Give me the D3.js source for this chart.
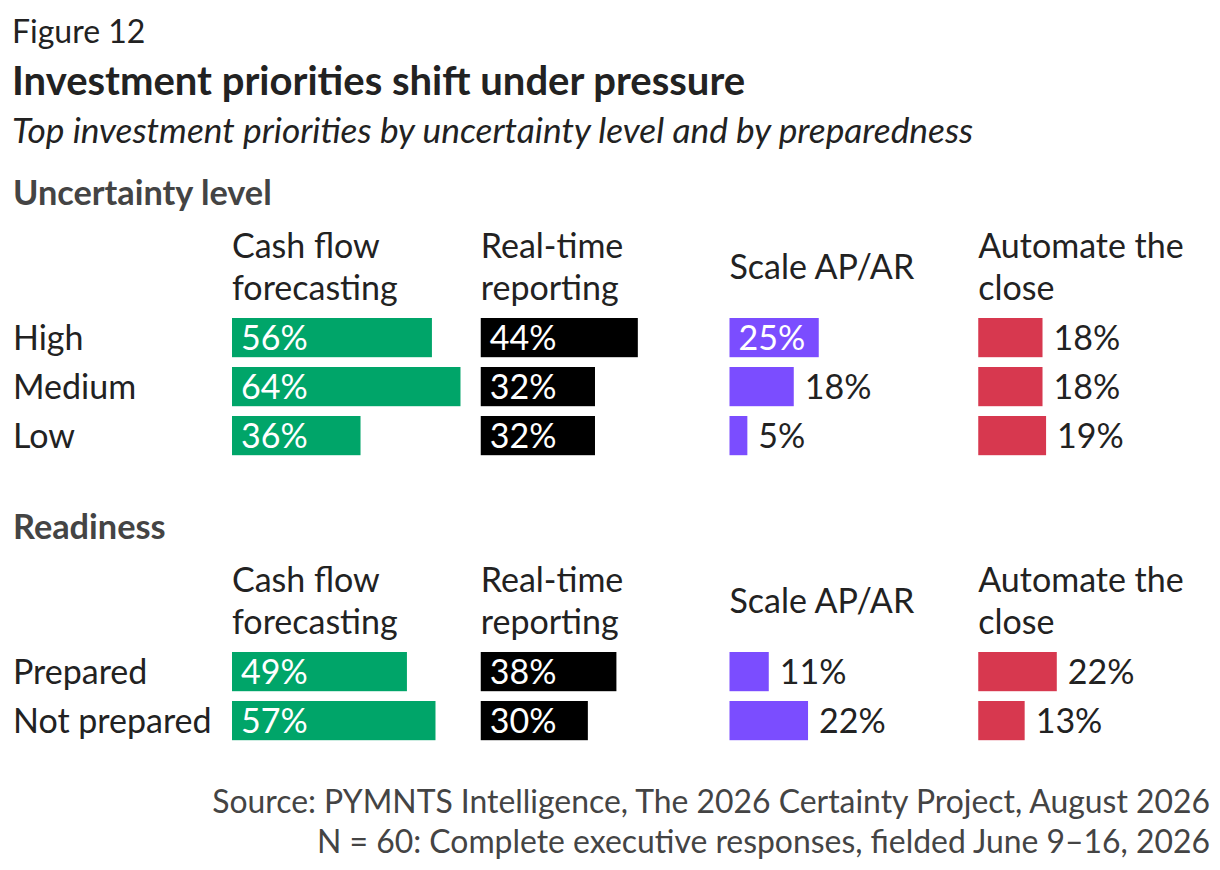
<!DOCTYPE html>
<html>
<head>
<meta charset="utf-8">
<script src="https://cdn.jsdelivr.net/npm/d3@7/dist/d3.min.js"></script>
<style>
  body { margin: 0; background: #fff; }
  text { font-family: Lato, "Open Sans", sans-serif; }
</style>
</head>
<body>
<svg id="chart" width="1220" height="870"></svg>
<script>
// data
const columns = ["Cash flow forecasting", "Real-time reporting", "Scale AP/AR", "Automate the close"];
const columnLines = [["Cash flow", "forecasting"], ["Real-time", "reporting"], ["Scale AP/AR"], ["Automate the", "close"]];
const colors = ["#00a569", "#000000", "#7b4dff", "#d7384f"];

const uncertaintyRows = ["High", "Medium", "Low"];
const uncertaintyValues = [
  [56, 44, 25, 18],
  [64, 32, 18, 18],
  [36, 32, 5, 19]
];
const readinessRows = ["Prepared", "Not prepared"];
const readinessValues = [
  [49, 38, 11, 22],
  [57, 30, 22, 13]
];

const svg = d3.select("#chart");
const fs = 34;

// titles
svg.append("text").attr("x", 12).attr("y", 43).attr("font-size", 32).attr("fill", "#222").text("Figure 12");
svg.append("text").attr("x", 12).attr("y", 95).attr("font-size", 40).attr("font-weight", 700).attr("fill", "#222")
  .text("Investment priorities shift under pressure");
svg.append("text").attr("x", 12).attr("y", 143).attr("font-size", 35.3).attr("font-style", "italic").attr("fill", "#222")
  .text("Top investment priorities by uncertainty level and by preparedness");

// scales
const colX = d3.scaleBand().domain(columns).range([232, 1227]).paddingInner(0);
const w = d3.scaleLinear().domain([0, 100]).range([0, 357]);

function panel(title, titleY, headerY, rows, values, rowY0) {
  svg.append("text").attr("x", 13).attr("y", titleY).attr("font-size", 34.3).attr("font-weight", 700)
    .attr("fill", "#444").text(title);

  columns.forEach((c, i) => {
    const lines = columnLines[i];
    const t = svg.append("text").attr("x", colX(c)).attr("font-size", fs).attr("fill", "#222");
    if (lines.length === 1) {
      t.attr("y", headerY + 31).text(lines[0]);
    } else {
      lines.forEach((l, j) => t.append("tspan").attr("x", colX(c)).attr("y", headerY + 10 + j * 42).text(l));
    }
  });

  const y = d3.scaleBand().domain(rows).range([rowY0 - 4.9, rowY0 - 4.9 + rows.length * 49])
    .paddingInner(0.2).paddingOuter(0.1);

  svg.append("g").selectAll("text").data(rows).join("text")
    .attr("x", 13).attr("y", d => y(d) + y.bandwidth() / 2).attr("dy", "0.35em")
    .attr("font-size", fs).attr("fill", "#222").text(d => d);

  rows.forEach((r, ri) => {
    values[ri].forEach((v, ci) => {
      const x0 = colX(columns[ci]);
      svg.append("rect").attr("x", x0).attr("y", y(r)).attr("width", w(v)).attr("height", y.bandwidth())
        .attr("fill", colors[ci]);
      const inside = v >= 25;
      svg.append("text")
        .attr("x", inside ? x0 + 9 : x0 + w(v) + 11)
        .attr("y", y(r) + y.bandwidth() / 2).attr("dy", "0.35em")
        .attr("font-size", fs).attr("fill", inside ? "#fff" : "#222")
        .text(v + "%");
    });
  });
}

panel("Uncertainty level", 205, 248, uncertaintyRows, uncertaintyValues, 318);
panel("Readiness", 539, 582, readinessRows, readinessValues, 652);

// source
svg.append("text").attr("x", 1210).attr("y", 813).attr("text-anchor", "end").attr("font-size", 31.9).attr("fill", "#444")
  .text("Source: PYMNTS Intelligence, The 2026 Certainty Project, August 2026");
svg.append("text").attr("x", 1210).attr("y", 853).attr("text-anchor", "end").attr("font-size", 31.9).attr("fill", "#444")
  .text("N = 60: Complete executive responses, fielded June 9–16, 2026");
</script>
</body>
</html>
